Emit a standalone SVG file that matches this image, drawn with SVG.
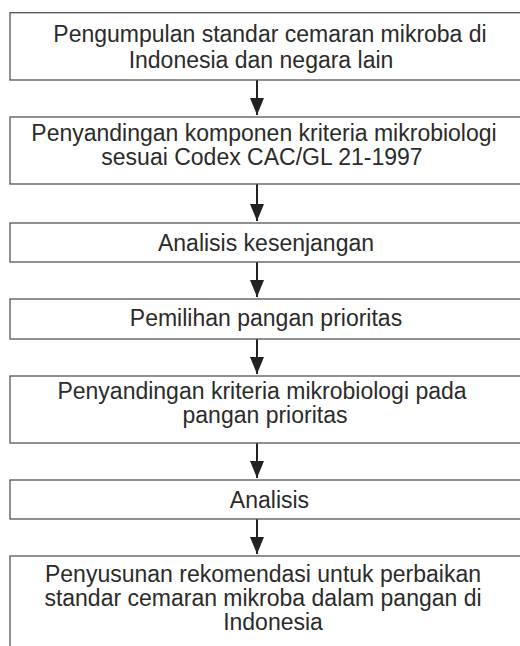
<svg xmlns="http://www.w3.org/2000/svg" width="520" height="646" viewBox="0 0 520 646">
<style>
.box{fill:#fff;stroke:#555;stroke-width:1.3}
.t{font-family:"Liberation Sans",Arial,sans-serif;font-size:23px;fill:#2b2b2b;text-anchor:middle}
.c{stroke:#222;stroke-width:2;fill:none;marker-end:url(#ah)}
</style>
<defs>
<marker id="ah" markerUnits="userSpaceOnUse" markerWidth="18" markerHeight="15" refX="17" refY="7" orient="auto">
<path d="M0,0 L17,7 L0,14 z" fill="#222"/>
</marker>
</defs>
<rect width="520" height="646" fill="#fff"/>
<g id="connectors">
<line class="c" x1="257" y1="80" x2="257" y2="115"/>
<line class="c" x1="257" y1="184" x2="257" y2="221"/>
<line class="c" x1="257" y1="262" x2="257" y2="297"/>
<line class="c" x1="257" y1="339" x2="257" y2="374"/>
<line class="c" x1="257" y1="443" x2="257" y2="478"/>
<line class="c" x1="257" y1="519" x2="257" y2="554"/>
</g>
<g id="n1">
<rect class="box" x="10" y="12.7" width="530" height="67.3"/>
<text class="t" x="270" y="41.5">Pengumpulan standar cemaran mikroba di</text>
<text class="t" x="261" y="67.5">Indonesia dan negara lain</text>
</g>
<g id="n2">
<rect class="box" x="10" y="117" width="530" height="67"/>
<text class="t" x="264" y="140.7">Penyandingan komponen kriteria mikrobiologi</text>
<text class="t" x="262" y="164.5">sesuai Codex CAC/GL 21-1997</text>
</g>
<g id="n3">
<rect class="box" x="10" y="223" width="530" height="39"/>
<text class="t" x="266" y="251">Analisis kesenjangan</text>
</g>
<g id="n4">
<rect class="box" x="10" y="299" width="530" height="40"/>
<text class="t" x="266" y="325.5">Pemilihan pangan prioritas</text>
</g>
<g id="n5">
<rect class="box" x="10" y="376" width="530" height="67"/>
<text class="t" x="262" y="399">Penyandingan kriteria mikrobiologi pada</text>
<text class="t" x="265" y="423">pangan prioritas</text>
</g>
<g id="n6">
<rect class="box" x="10" y="480" width="530" height="39"/>
<text class="t" x="269.5" y="507.5">Analisis</text>
</g>
<g id="n7">
<rect class="box" x="10" y="556" width="530" height="110"/>
<text class="t" x="263" y="581.5">Penyusunan rekomendasi untuk perbaikan</text>
<text class="t" x="263" y="606">standar cemaran mikroba dalam pangan di</text>
<text class="t" x="273" y="629.5">Indonesia</text>
</g>
</svg>
